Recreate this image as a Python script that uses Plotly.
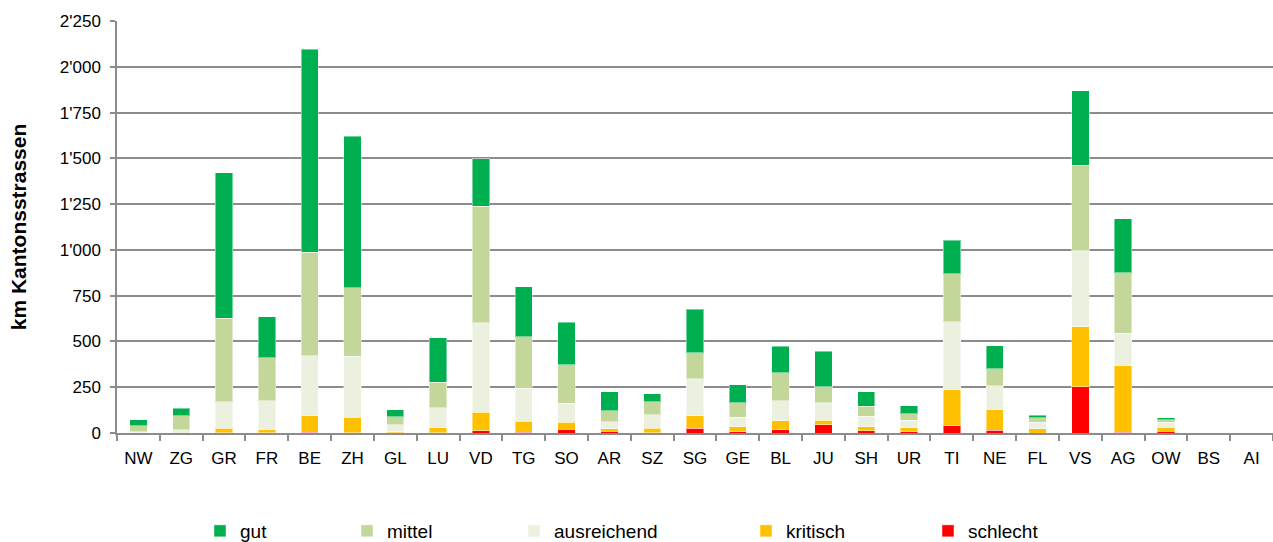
import plotly.graph_objects as go

# Cantonal road network by condition class (km)
cantons = ["NW", "ZG", "GR", "FR", "BE", "ZH", "GL", "LU", "VD", "TG", "SO", "AR", "SZ", "SG",
           "GE", "BL", "JU", "SH", "UR", "TI", "NE", "FL", "VS", "AG", "OW", "BS", "AI"]

schlecht = [0, 0, 2, 1, 3, 2, 1, 2, 11, 4, 20, 10, 1, 25, 8, 18, 45, 13, 7, 40, 14, 0, 253, 4, 9, 0, 0]
kritisch = [2, 0, 23, 17, 90, 83, 6, 27, 102, 59, 38, 13, 26, 68, 26, 49, 24, 21, 22, 197, 113, 24, 328, 364, 22, 0, 0]
ausreichend = [5, 18, 146, 157, 329, 333, 37, 109, 488, 182, 104, 39, 73, 204, 51, 109, 96, 57, 42, 371, 130, 34, 415, 178, 27, 0, 0]
mittel = [33, 76, 455, 236, 564, 375, 45, 140, 636, 282, 211, 60, 71, 141, 80, 152, 88, 55, 35, 262, 94, 26, 465, 328, 15, 0, 0]
gut = [33, 42, 794, 224, 1111, 827, 38, 241, 261, 273, 231, 102, 44, 239, 99, 147, 193, 78, 43, 184, 126, 14, 408, 296, 9, 0, 0]

y_ticks = [0, 250, 500, 750, 1000, 1250, 1500, 1750, 2000, 2250]

# stacking order bottom -> top, with the legend slot each series uses
series = [
    ("schlecht", schlecht, "#FF0000", "legend5"),
    ("kritisch", kritisch, "#FFC000", "legend4"),
    ("ausreichend", ausreichend, "#EBF1DE", "legend3"),
    ("mittel", mittel, "#C4D79B", "legend2"),
    ("gut", gut, "#00B050", "legend"),
]

FONT = "Liberation Sans, Arial, sans-serif"
GRID = "#8C8C8C"

fig = go.Figure()
for name, vals, color, leg in series:
    fig.add_trace(go.Bar(
        x=cantons, y=vals, name=name, legend=leg,
        marker=dict(color=color, line=dict(color="rgba(255,255,255,0.45)", width=1)),
    ))

# plot area geometry in pixels (used to place the legend entries)
W, H = 1273, 542
L, R, T, B = 117, 0, 21, 109
pw, ph = W - L - R, H - T - B

def lx(px):
    return (px - L) / pw

leg_y = (H - B - 531) / ph
legend_common = dict(orientation="h", yanchor="middle", xanchor="left", y=leg_y,
                     font=dict(family=FONT, size=19, color="#000000"),
                     bgcolor="rgba(0,0,0,0)", borderwidth=0, itemclick=False)
text_starts = {"legend": 238, "legend2": 385, "legend3": 552, "legend4": 784, "legend5": 966}
legends = {k: dict(legend_common, x=lx(v - 38)) for k, v in text_starts.items()}

fig.update_layout(
    width=W, height=H,
    margin=dict(l=L, r=R, t=T, b=B, autoexpand=False),
    paper_bgcolor="white", plot_bgcolor="white",
    barmode="stack", bargap=0.595,
    separators=".'",
    font=dict(family=FONT, color="#000000"),
    showlegend=True,
    **legends,
)

fig.update_xaxes(
    type="category", showgrid=False,
    showline=True, linecolor=GRID, linewidth=1.5,
    ticks="outside", tickson="boundaries", ticklen=6, tickcolor=GRID, tickwidth=1.5,
    tickfont=dict(family=FONT, size=17, color="#000000"),
    ticklabelstandoff=9,
    range=[-0.5, len(cantons) - 0.5],
)

fig.update_yaxes(
    range=[0, 2250], tickvals=y_ticks, tickformat=",d",
    showgrid=True, gridcolor=GRID, gridwidth=1.5,
    showline=True, linecolor=GRID, linewidth=1.5,
    ticks="outside", ticklen=5, tickcolor=GRID, tickwidth=1.5,
    tickfont=dict(family=FONT, size=17, color="#000000"),
    ticklabelstandoff=6,
    zeroline=False,
    title=dict(text="<b>km Kantonsstrassen</b>", font=dict(family=FONT, size=21, color="#000000"),
               standoff=27),
    automargin=False,
)

fig.write_html("out.html")
